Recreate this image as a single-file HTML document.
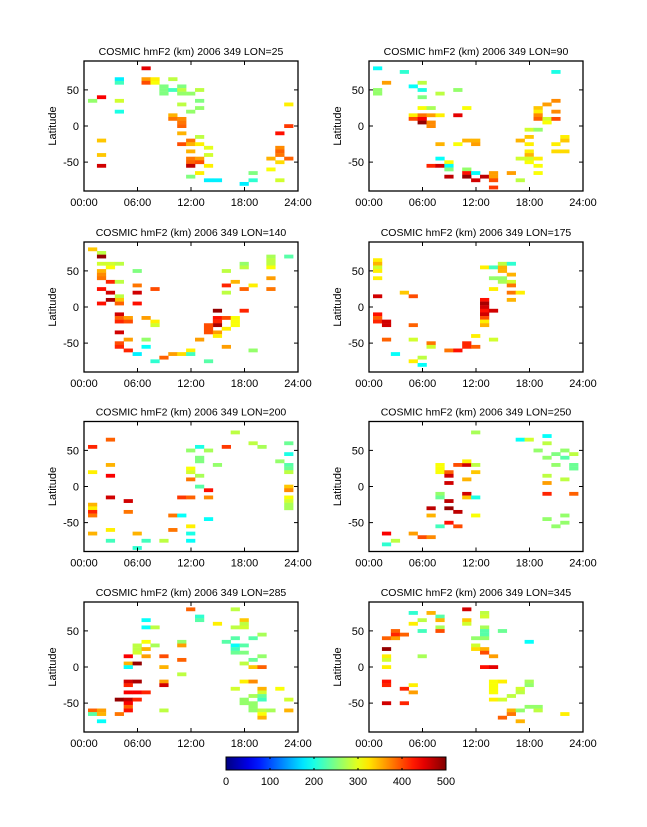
<!DOCTYPE html>
<html><head><meta charset="utf-8"><style>
html,body{margin:0;padding:0;background:#fff;}
svg text{font-family:"Liberation Sans",sans-serif;font-size:11px;fill:#000;}
svg text.ttl{font-size:10.5px;}
</style></head><body>
<svg id="fig" width="647" height="822" xmlns="http://www.w3.org/2000/svg"></svg>
<script>
// Data: [hour-center, latitude, hmF2 km]
const lons = [25, 90, 140, 175, 200, 250, 285, 345];
const xTickLabels = ["00:00","06:00","12:00","18:00","24:00"];
const xTickHours = [0,6,12,18,24];
const yTickLats = [50,0,-50];
const cbTicks = [0,100,200,300,400,500];
const cells25 = [[7,80,450],[4,65,180],[4,60,220],[7,65,360],[8,65,320],[7,60,400],[8,60,310],[10,65,280],[9,55,250],[9,50,250],[9,45,250],[10,50,220],[11,55,250],[11,50,280],[11,45,260],[12,45,260],[13,50,280],[2,40,440],[1,35,260],[4,35,290],[13,35,250],[11,30,280],[13,25,260],[4,20,200],[12,20,260],[23,30,320],[10,15,350],[10,10,380],[11,10,370],[11,5,380],[11,0,390],[23,0,410],[11,-10,350],[22,-10,430],[13,-15,280],[2,-20,340],[12,-20,380],[11,-25,400],[12,-25,350],[13,-25,320],[14,-30,300],[22,-30,370],[22,-35,390],[22,-40,380],[12,-35,350],[14,-40,290],[2,-40,340],[12,-45,380],[13,-45,360],[12,-50,390],[13,-50,400],[21,-45,350],[23,-45,390],[22,-50,330],[2,-55,460],[12,-55,470],[14,-55,320],[21,-60,310],[13,-65,320],[19,-65,250],[12,-70,250],[14,-75,180],[15,-75,180],[19,-75,210],[22,-75,290],[18,-80,180]];
const cells90 = [[1,80,190],[4,75,210],[2,60,360],[5,55,190],[6,60,280],[6,50,200],[1,50,260],[1,45,260],[8,45,280],[10,50,260],[6,40,250],[21,75,200],[6,25,310],[7,25,270],[11,25,310],[5,15,320],[6,15,380],[7,15,360],[8,15,320],[10,15,450],[5,10,400],[6,10,440],[6,5,490],[7,5,370],[7,0,370],[19,25,340],[19,20,320],[19,15,370],[19,10,390],[20,30,360],[21,35,370],[21,20,370],[20,10,290],[20,5,310],[21,10,400],[18,-5,290],[19,-5,260],[18,-15,340],[22,-15,320],[22,-20,340],[17,-20,350],[11,-20,350],[12,-20,350],[8,-25,350],[10,-25,310],[12,-25,360],[18,-25,320],[21,-25,320],[18,-35,320],[18,-40,350],[21,-35,330],[22,-35,330],[17,-45,290],[18,-45,290],[19,-45,320],[18,-50,310],[19,-55,310],[19,-65,310],[8,-45,190],[9,-50,310],[7,-55,420],[8,-55,460],[9,-55,190],[9,-60,250],[11,-60,260],[11,-65,430],[12,-65,190],[9,-70,470],[11,-70,490],[13,-70,470],[12,-75,460],[14,-65,360],[14,-70,360],[14,-75,400],[14,-85,410],[16,-65,360],[17,-75,280]];
const cells140 = [[1,80,340],[2,75,280],[2,70,490],[2,60,290],[3,60,290],[4,60,280],[3,55,310],[2,50,350],[2,45,370],[2,40,380],[6,50,250],[3,35,420],[4,35,280],[6,30,380],[2,25,430],[8,25,400],[3,20,460],[6,20,460],[4,15,280],[4,10,340],[3,10,480],[2,5,430],[4,5,390],[6,5,430],[4,-10,460],[4,-15,390],[5,-15,360],[7,-15,360],[4,-20,420],[5,-20,400],[8,-20,320],[8,-25,290],[4,-35,460],[5,-45,360],[7,-45,260],[4,-50,400],[4,-55,420],[7,-55,190],[5,-60,420],[6,-65,180],[9,-70,390],[10,-65,360],[11,-65,330],[12,-60,320],[12,-65,220],[8,-75,210],[13,-45,360],[14,-75,230],[15,-5,490],[15,-15,430],[16,-15,400],[17,-15,310],[15,-20,420],[15,-25,480],[17,-20,310],[17,-25,310],[14,-25,400],[14,-30,400],[14,-35,400],[15,-35,360],[15,-40,320],[16,-30,320],[16,-55,360],[19,-60,260],[18,-5,420],[16,50,280],[16,30,420],[17,35,350],[19,30,320],[18,25,390],[16,20,280],[18,60,260],[18,55,280],[21,70,270],[21,65,280],[21,60,280],[21,55,310],[23,70,230],[21,40,360],[21,25,380]];
const cells175 = [[1,65,320],[1,60,350],[1,55,290],[1,50,320],[1,40,320],[1,15,460],[4,20,340],[5,15,400],[1,-10,430],[1,-15,390],[1,-20,420],[2,-20,460],[2,-25,460],[5,-25,390],[2,-45,390],[5,-45,290],[3,-65,190],[5,-75,320],[6,-70,280],[6,-80,190],[7,-50,380],[7,-55,290],[9,-60,380],[10,-60,430],[11,-50,420],[11,-55,420],[12,-55,390],[12,-40,320],[14,-45,290],[13,55,320],[14,55,220],[15,55,350],[15,60,280],[16,60,210],[15,50,350],[16,45,350],[14,40,260],[15,40,260],[15,35,270],[16,35,290],[16,30,380],[14,25,320],[16,20,380],[17,20,320],[16,10,350],[13,10,430],[13,5,480],[13,0,460],[13,-5,430],[14,-5,460],[13,-10,460],[13,-15,400],[13,-20,320],[13,-25,350]];
const cells200 = [[1,55,420],[3,65,390],[1,20,320],[3,30,350],[3,15,440],[3,-15,460],[5,-20,460],[1,-25,350],[1,-30,320],[1,-35,420],[1,-40,380],[5,-35,380],[1,-65,350],[3,-60,320],[3,-75,220],[6,-65,350],[6,-85,210],[7,-75,220],[9,-75,280],[10,-40,380],[11,-40,190],[10,-60,380],[11,-15,410],[12,-15,390],[12,-55,320],[12,-65,200],[12,-75,190],[14,-45,190],[14,-15,370],[14,-5,430],[13,0,230],[13,15,270],[12,25,310],[12,20,290],[12,10,380],[13,40,250],[13,35,250],[15,30,260],[12,50,260],[13,55,200],[14,50,270],[16,55,410],[17,75,280],[19,60,280],[20,55,270],[22,35,260],[23,60,240],[23,45,200],[23,30,230],[23,25,240],[23,20,280],[23,0,340],[23,-5,370],[23,-15,310],[23,-20,290],[23,-25,270],[23,-30,270]];
const cells250 = [[12,75,270],[17,65,190],[18,65,290],[20,70,190],[20,60,280],[19,50,260],[20,40,260],[21,45,250],[22,50,260],[22,40,230],[23,45,280],[21,30,260],[23,30,240],[23,25,240],[20,15,280],[20,5,360],[22,10,280],[20,-10,420],[23,-10,390],[20,-45,260],[22,-40,260],[22,-50,260],[21,-55,260],[8,30,310],[8,25,310],[8,20,310],[9,20,390],[9,15,460],[9,5,460],[10,30,400],[11,30,460],[12,30,280],[11,35,320],[12,20,340],[11,10,350],[8,-10,260],[8,-15,240],[9,-20,470],[7,-30,470],[9,-30,490],[10,-35,470],[11,-10,460],[11,-15,340],[12,-15,200],[7,-40,350],[12,-40,310],[8,-55,220],[9,-50,430],[10,-55,400],[2,-65,440],[5,-65,360],[6,-70,400],[7,-70,370],[3,-75,280],[2,-80,210]];
const cells285 = [[12,80,390],[17,80,280],[7,65,190],[7,55,190],[8,55,280],[13,70,210],[13,65,230],[15,60,320],[18,65,340],[18,60,280],[17,55,280],[18,55,290],[20,45,270],[17,40,230],[19,40,230],[16,35,230],[17,30,190],[18,30,230],[17,25,220],[17,20,240],[18,20,250],[20,15,260],[19,10,240],[18,5,280],[19,0,340],[20,0,390],[7,35,310],[11,35,260],[11,30,360],[8,30,270],[6,30,280],[6,25,280],[7,25,350],[6,20,290],[5,15,440],[7,15,360],[9,15,400],[11,10,390],[5,5,350],[6,5,490],[5,0,190],[9,0,350],[11,-10,280],[5,-20,460],[6,-20,480],[5,-25,420],[9,-20,360],[9,-25,460],[5,-35,440],[6,-35,440],[7,-35,420],[4,-45,490],[5,-45,470],[6,-45,420],[5,-50,440],[5,-55,390],[5,-60,430],[1,-60,390],[2,-60,360],[1,-65,230],[2,-65,350],[4,-65,380],[2,-75,190],[9,-60,280],[18,-20,320],[19,-20,370],[17,-30,290],[20,-30,350],[20,-35,290],[22,-30,310],[19,-40,270],[20,-40,240],[20,-45,220],[18,-45,260],[18,-50,260],[19,-50,260],[23,-45,290],[19,-55,260],[19,-60,260],[20,-60,280],[21,-60,270],[23,-60,350],[20,-65,310],[20,-70,350]];
const cells345 = [[11,80,460],[5,75,210],[7,75,350],[8,70,230],[8,65,350],[6,65,280],[5,60,320],[11,65,340],[11,60,290],[13,75,280],[13,70,290],[8,55,270],[13,55,270],[3,50,390],[6,50,220],[8,50,400],[13,50,230],[15,50,240],[3,45,420],[4,45,390],[13,45,230],[2,40,390],[3,40,360],[12,40,260],[13,40,260],[18,35,190],[2,25,490],[12,30,290],[12,25,330],[13,25,350],[13,20,400],[14,15,360],[6,15,270],[2,15,320],[2,10,290],[2,0,320],[13,0,430],[14,0,450],[2,-20,430],[2,-25,420],[4,-30,420],[5,-25,320],[5,-35,360],[14,-20,310],[15,-20,320],[14,-25,310],[14,-30,310],[14,-35,310],[18,-20,270],[18,-25,260],[17,-30,290],[17,-35,280],[16,-40,280],[14,-45,320],[15,-45,290],[2,-50,460],[4,-50,420],[18,-55,260],[19,-55,260],[19,-60,280],[16,-60,350],[17,-60,260],[16,-65,380],[22,-65,320],[15,-70,390],[17,-75,350]];
const panelCells = [cells25, cells90, cells140, cells175, cells200, cells250, cells285, cells345];

const NS = "http://www.w3.org/2000/svg";
const svg = document.getElementById('fig');
function mk(tag, attrs, parent){ const e=document.createElementNS(NS,tag); for(const k in attrs) e.setAttribute(k,attrs[k]); (parent||svg).appendChild(e); return e; }
function jet(t){
  t=Math.max(0,Math.min(1,t));
  const r=Math.max(0,Math.min(1,1.5-Math.abs(4*t-3)));
  const g=Math.max(0,Math.min(1,1.5-Math.abs(4*t-2)));
  const b=Math.max(0,Math.min(1,1.5-Math.abs(4*t-1)));
  return `rgb(${Math.round(r*255)},${Math.round(g*255)},${Math.round(b*255)})`;
}
const colX = [84, 369];
const rowTop = [61, 242, 421.5, 602];
const PW = 214, PH = 130;

panelCells.forEach((cells, i) => {
  const x0 = colX[i%2], y0 = rowTop[Math.floor(i/2)];
  const xs = h => x0 + h/24*PW;
  const ys = lat => y0 + (90-lat)/180*PH;
  const g = mk('g', {});
  
  
  cells.forEach(c => {
    const r = mk('rect', {x: xs(c[0]-0.55), y: ys(c[1]+2.5), width: PW/24+0.3, height: 5/180*PH+0.2, fill: jet(c[2]/500)}, g);
    
    
  });
  const fr = mk('rect', {x: x0, y: y0, width: PW, height: PH, fill: 'none', stroke: '#000', 'stroke-width': 1.3}, g);
  
  
  xTickHours.forEach((h, k) => {
    mk('line', {x1: xs(h), x2: xs(h), y1: y0+PH, y2: y0+PH-4, stroke:'#000'}, g);
    mk('line', {x1: xs(h), x2: xs(h), y1: y0, y2: y0+4, stroke:'#000'}, g);
    const t = mk('text', {x: xs(h), y: y0+PH+15, 'text-anchor':'middle'}, g);
    t.textContent = xTickLabels[k];
    
    
  });
  yTickLats.forEach(l => {
    mk('line', {x1: x0, x2: x0+4, y1: ys(l), y2: ys(l), stroke:'#000'}, g);
    mk('line', {x1: x0+PW, x2: x0+PW-4, y1: ys(l), y2: ys(l), stroke:'#000'}, g);
    const t = mk('text', {x: x0-5, y: ys(l)+4, 'text-anchor':'end'}, g);
    t.textContent = String(l);
    
    
  });
  const yl = mk('text', {x: x0-28, y: y0+PH/2, 'text-anchor':'middle', transform:`rotate(-90 ${x0-28} ${y0+PH/2})`}, g);
  yl.textContent = 'Latitude';
  
  
  const tt = mk('text', {x: x0+PW/2, y: y0-6, 'text-anchor':'middle', 'class':'ttl'}, g);
  tt.textContent = 'COSMIC hmF2 (km) 2006 349 LON=' + lons[i];
  
  
});

// colorbar
const cbX = 226, cbY = 757, cbW = 220, cbH = 13;
const cb = mk('g', {});


const defs = mk('defs', {});
const grad = mk('linearGradient', {id:'jetg', x1:0, x2:1, y1:0, y2:0}, defs);
for (let k=0;k<=20;k++){ mk('stop', {offset: k/20, 'stop-color': jet(k/20)}, grad); }
mk('rect', {x: cbX, y: cbY, width: cbW, height: cbH, fill: 'url(#jetg)', stroke:'#000', 'stroke-width':1}, cb);
cbTicks.forEach(v => {
  const x = cbX + v/500*cbW;
  mk('line', {x1:x, x2:x, y1:cbY, y2:cbY+2, stroke:'#000'}, cb);
  mk('line', {x1:x, x2:x, y1:cbY+cbH, y2:cbY+cbH-2, stroke:'#000'}, cb);
  const t = mk('text', {x: x, y: cbY+cbH+15, 'text-anchor':'middle'}, cb);
  t.textContent = String(v);
  
  
});
</script>
</body></html>
